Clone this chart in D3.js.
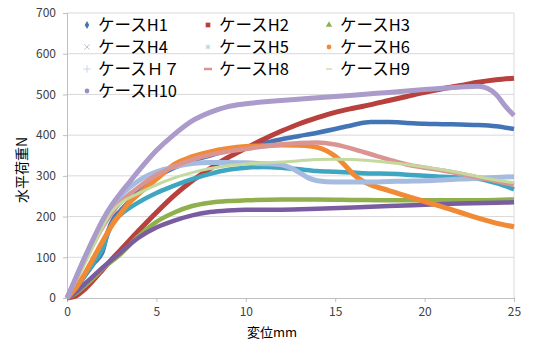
<!DOCTYPE html>
<html>
<head>
<meta charset="utf-8">
<script src="https://cdn.jsdelivr.net/npm/d3@7"></script>
<style>
  body { margin: 0; background: #fff; }
  #chart text { font-family: "Noto Sans CJK JP", "Noto Sans", sans-serif; }
</style>
</head>
<body>
<div id="chart"></div>
<script>
// displacement (mm) / horizontal load (N)
var caseH1 = [[0,0],[0.5,25],[1,55],[1.5,85],[2,115],[2.3,165],[2.6,195],[3,215],[3.5,238],[4,262],[5,297],[6,320],[7,337],[8,350],[9,362],[10,370],[11,380],[12,390],[13,398],[14,406],[15,415],[16,425],[17,432],[18,432],[19,430],[20,428],[21,427],[22,426],[23,425],[24,422],[25,415]];
var caseH2 = [[0,0],[0.5,5],[1,22],[1.5,45],[2,70],[2.5,95],[3,118],[4,165],[5,210],[6,252],[7,288],[8,318],[9,345],[10,368],[11,390],[12,410],[13,428],[14,443],[15,456],[16,466],[17,475],[18,485],[19,495],[20,505],[21,514],[22,522],[23,530],[24,536],[25,540]];
var caseH3 = [[0,0],[0.5,12],[1,30],[1.5,50],[2,72],[3,108],[4,152],[5,187],[6,210],[7,226],[8,234],[9,238],[10,240],[12,242],[14,242],[16,241],[18,240],[20,240],[22,240],[24,241],[25,242]];
var caseH4 = [[0,0],[0.5,15],[1,35],[1.5,55],[2,75],[3,112],[4,148],[5,173],[6,190],[7,203],[8,211],[9,215],[10,217],[12,217],[14,219],[16,222],[18,226],[20,229],[22,232],[24,234],[25,235]];
var caseH5 = [[0,0],[0.5,25],[1,55],[1.5,88],[2,122],[2.3,160],[2.6,188],[3,205],[4,235],[5,258],[6,276],[7,292],[8,305],[9,315],[10,320],[11,322],[12,320],[13,316],[14,312],[15,310],[16,308],[17,306],[18,305],[19,303],[20,300],[21,298],[22,296],[23,293],[24,282],[25,267]];
var caseH6 = [[0,0],[0.5,25],[1,60],[1.5,100],[2,140],[2.5,178],[3,208],[3.5,235],[4,255],[5,292],[6,328],[7,347],[8,359],[9,367],[10,372],[11,374],[12,376],[13,375],[14,370],[14.5,362],[15,348],[15.5,328],[16,305],[16.5,288],[17,278],[18,264],[19,250],[20,237],[21,224],[22,210],[23,196],[24,184],[25,175]];
var caseH7 = [[0,0],[0.5,50],[1,100],[1.5,145],[2,185],[2.5,220],[3,250],[4,288],[5,310],[6,322],[7,330],[8,333],[9,333],[10,332],[11,330],[12,327],[12.5,320],[13,308],[13.5,295],[14,288],[15,285],[16,285],[17,285],[18,286],[19,287],[20,288],[21,290],[22,292],[23,294],[24,296],[25,298]];
var caseH8 = [[0,0],[0.5,45],[1,92],[1.5,135],[2,175],[2.5,208],[3,235],[4,272],[5,302],[6,323],[7,340],[8,352],[9,360],[10,366],[11,372],[12,377],[13,381],[14,382],[15,377],[16,366],[17,353],[18,340],[19,328],[20,320],[21,313],[22,305],[23,296],[24,287],[25,278]];
var caseH9 = [[0,0],[0.5,42],[1,85],[1.5,130],[2,175],[2.5,212],[3,233],[4,257],[5,278],[6,295],[7,308],[8,318],[9,325],[10,329],[11,332],[12,334],[13,337],[14,340],[15,341],[16,340],[17,337],[18,333],[19,328],[20,322],[21,315],[22,307],[23,298],[24,290],[25,283]];
var caseH10 = [[0,0],[0.5,50],[1,100],[1.5,148],[2,192],[2.5,228],[3,258],[3.5,285],[4,312],[5,362],[6,402],[7,435],[8,456],[9,470],[10,477],[12,485],[14,492],[16,498],[18,505],[20,512],[21,515],[22,518],[23,520],[23.5,515],[24,500],[24.5,472],[25,448]];

var seriesNames = ["ケースH1", "ケースH2", "ケースH3", "ケースH4", "ケースH5", "ケースH6", "ケースＨ７", "ケースH8", "ケースH9", "ケースH10"];
var seriesData = [caseH1, caseH2, caseH3, caseH4, caseH5, caseH6, caseH7, caseH8, caseH9, caseH10];
var xTicks = [0, 5, 10, 15, 20, 25];
var yTicks = [0, 100, 200, 300, 400, 500, 600, 700];

var colors = ["#4274b6", "#b8413e", "#8fb04c", "#7a5ca0", "#3ea6c1", "#f08a34", "#a5bce0", "#da9593", "#c4d99d", "#ab9bcb"];
var widths = [4.5, 5, 4.5, 4.5, 4.5, 5, 5, 4.5, 3, 5];
// legend marker kind per series
var markers = ["diamond", "square", "triangle", "x", "star", "circle", "plus", "dash", "thin", "circle"];
var markerColors = ["#4274b6", "#b8413e", "#8fb04c", "#c8bedc", "#a9d6e4", "#f08a34", "#c8d6ec", "#da9593", "#c4d99d", "#9d8cc2"];

var margin = { top: 13, right: 19, bottom: 42, left: 67 };
var width = 533 - margin.left - margin.right;
var height = 340 - margin.top - margin.bottom;

var svg = d3.select("#chart").append("svg")
  .attr("width", 533)
  .attr("height", 340);

var g = svg.append("g")
  .attr("transform", "translate(" + margin.left + "," + margin.top + ")");

var x = d3.scaleLinear().domain([0, 25]).range([0, width]);
var y = d3.scaleLinear().domain([0, 700]).range([height, 0]);

// gridlines
g.selectAll(".grid")
  .data(yTicks.slice(1))
  .enter().append("line")
  .attr("x1", 0)
  .attr("x2", width)
  .attr("y1", function(d) { return y(d); })
  .attr("y2", function(d) { return y(d); })
  .attr("stroke", "#d9d9d9")
  .attr("stroke-width", 1);

// right border of plot
g.append("line")
  .attr("x1", width).attr("x2", width)
  .attr("y1", 0).attr("y2", height)
  .attr("stroke", "#d9d9d9");

var yAxis = g.append("g")
  .call(d3.axisLeft(y).tickValues(yTicks).tickSize(4).tickPadding(7));
var xAxis = g.append("g")
  .attr("transform", "translate(0," + height + ")")
  .call(d3.axisBottom(x).tickValues(xTicks).tickSize(4).tickPadding(5));

[xAxis, yAxis].forEach(function(ax) {
  ax.select(".domain").attr("stroke", "#bfbfbf");
  ax.selectAll(".tick line").attr("stroke", "#bfbfbf");
  ax.selectAll("text").attr("fill", "#404040").style("font-size", "12px");
});

var line = d3.line()
  .x(function(d) { return x(d[0]); })
  .y(function(d) { return y(d[1]); })
  .curve(d3.curveMonotoneX);

g.selectAll(".series")
  .data(seriesData)
  .enter().append("path")
  .attr("class", "series")
  .attr("d", line)
  .attr("fill", "none")
  .attr("stroke", function(d, i) { return colors[i]; })
  .attr("stroke-width", function(d, i) { return widths[i]; })
  .attr("stroke-linejoin", "round");

// axis titles
svg.append("text")
  .attr("x", 272)
  .attr("y", 337)
  .attr("text-anchor", "middle")
  .style("font-size", "13px")
  .attr("fill", "#000")
  .text("変位mm");

svg.append("text")
  .attr("transform", "translate(27,170) rotate(-90)")
  .attr("text-anchor", "middle")
  .style("font-size", "14px")
  .attr("fill", "#000")
  .text("水平荷重N");

// legend, 3 columns
var legend = svg.selectAll(".legend")
  .data(seriesNames)
  .enter().append("g")
  .attr("class", "legend")
  .attr("transform", function(d, i) {
    return "translate(" + (87 + (i % 3) * 121) + "," + (25 + Math.floor(i / 3) * 22) + ")";
  });

var symbolTypes = { diamond: d3.symbolDiamond, square: d3.symbolSquare, triangle: d3.symbolTriangle, circle: d3.symbolCircle };

legend.each(function(d, i) {
  var el = d3.select(this);
  var m = markers[i];
  var c = markerColors[i];
  if (symbolTypes[m]) {
    el.append("path")
      .attr("d", d3.symbol().type(symbolTypes[m]).size(m === "square" ? 22 : 18))
      .attr("fill", c);
  } else if (m === "x" || m === "plus" || m === "star") {
    el.append("path")
      .attr("d", d3.symbol().type(m === "x" ? d3.symbolX : (m === "plus" ? d3.symbolPlus : d3.symbolAsterisk)).size(20))
      .attr("fill", "none")
      .attr("stroke", c)
      .attr("stroke-width", 1);
  } else {
    el.append("line")
      .attr("x1", m === "dash" ? -4 : -3).attr("x2", m === "dash" ? 4 : 3)
      .attr("stroke", c)
      .attr("stroke-width", m === "dash" ? 2.5 : 1.2);
  }
});

legend.append("text")
  .attr("x", 11)
  .attr("y", 6)
  .style("font-size", "16.5px")
  .attr("fill", "#000")
  .text(function(d) { return d; });
</script>
</body>
</html>
